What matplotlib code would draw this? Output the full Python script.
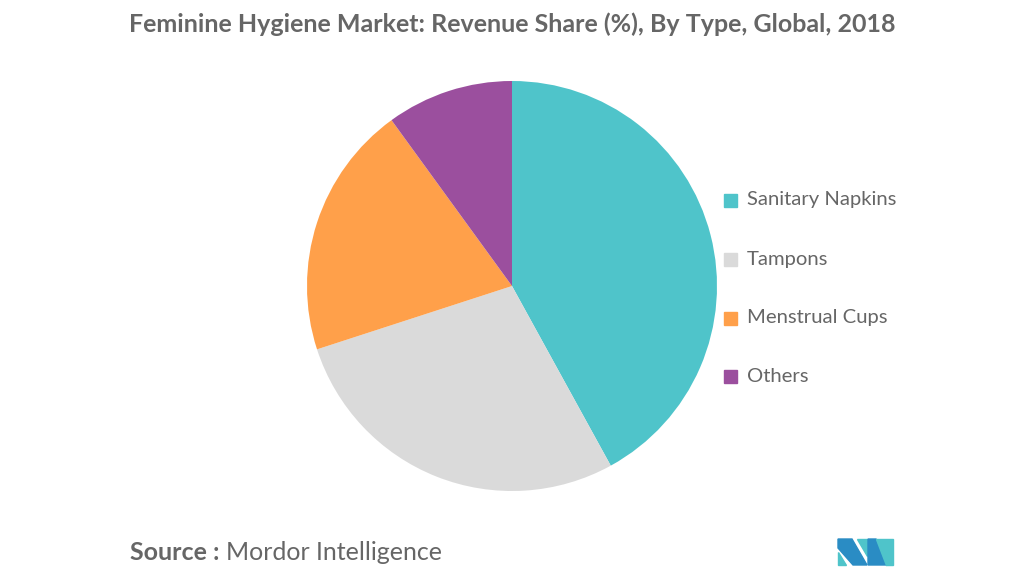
import matplotlib

matplotlib.use("Agg")

import matplotlib.pyplot as plt
from matplotlib.patches import Polygon, Rectangle

plt.rcParams["font.family"] = ["Lato", "DejaVu Sans"]

# data
categories = ["Sanitary Napkins", "Tampons", "Menstrual Cups", "Others"]
shares = [42, 28, 20, 10]
colors = ["#4FC4CA", "#DADADA", "#FFA04A", "#9B4F9E"]

TEXT = "#666666"
W, H = 1024, 576

fig = plt.figure(figsize=(W / 100, H / 100), dpi=100)

# pie: center ~ (512, 286) px, radius ~ 205 px
cx, cy, r = 512, 286, 205
ax = fig.add_axes([(cx - r) / W, (H - cy - r) / H, 2 * r / W, 2 * r / H])
ax.pie(shares, colors=colors, startangle=90, counterclock=False,
       wedgeprops=dict(linewidth=0))
ax.set_xlim(-1, 1)
ax.set_ylim(-1, 1)
ax.set_aspect("equal")
ax.axis("off")

fig.text(0.5, 1 - 24 / H, "Feminine Hygiene Market: Revenue Share (%), By Type, Global, 2018",
         ha="center", va="center", fontsize=18, fontweight="bold", color=TEXT)

# legend
leg_y = [200, 259, 318, 376]
for name, col, y in zip(categories, colors, leg_y):
    fig.patches.append(Rectangle((724 / W, 1 - (y + 6.5) / H), 13 / W, 13 / H,
                                 transform=fig.transFigure, color=col, figure=fig))
    fig.text(747 / W, 1 - y / H, name, ha="left", va="center",
             fontsize=14.6, color=TEXT)

# source line
fig.text(130 / W, 1 - 553 / H, "Source :", ha="left", va="center",
         fontsize=18, fontweight="bold", color=TEXT)
fig.text(226 / W, 1 - 553 / H, "Mordor Intelligence", ha="left", va="center",
         fontsize=18, color=TEXT)

# logo
def px(pts):
    return [(x / W, 1 - y / H) for x, y in pts]

logo = [
    ([(838, 539), (852, 539), (867, 565), (853, 565), (838, 548)], "#2A8CC4"),
    ([(838, 552), (838, 565), (846, 565)], "#4FC4CA"),
    ([(857, 539), (867, 539), (867, 556)], "#4FC4CA"),
    ([(868, 539), (876, 539), (886, 565), (868, 565)], "#2A8CC4"),
    ([(876, 539), (893, 539), (893, 565), (886, 565)], "#4FC4CA"),
]
for pts, col in logo:
    fig.patches.append(Polygon(px(pts), closed=True, transform=fig.transFigure,
                               color=col, figure=fig))

fig.savefig("out.png", dpi=100)
